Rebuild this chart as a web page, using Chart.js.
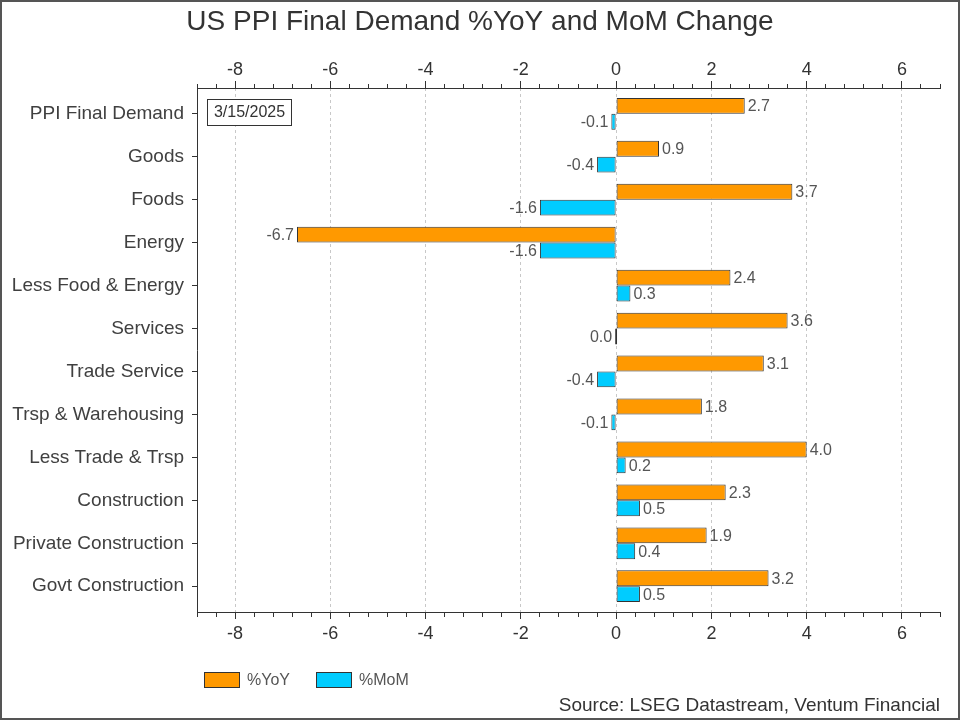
<!DOCTYPE html>
<html>
<head>
<meta charset="utf-8">
<title>US PPI Final Demand %YoY and MoM Change</title>
<script src="https://cdn.jsdelivr.net/npm/chart.js@4.4.1/dist/chart.umd.min.js"></script>
<style>
    html, body { margin: 0; padding: 0; background: #ffffff; }
    #wrap { width: 960px; height: 720px; position: relative; }
</style>
</head>
<body>
<div id="wrap"><canvas id="ppiChart"></canvas></div>
<script>

/* =========================
   DATA
========================= */

const categories = [
    "PPI Final Demand",
    "Goods",
    "Foods",
    "Energy",
    "Less Food & Energy",
    "Services",
    "Trade Service",
    "Trsp & Warehousing",
    "Less Trade & Trsp",
    "Construction",
    "Private Construction",
    "Govt Construction"
];

const yoyValues = [2.7, 0.9, 3.7, -6.7, 2.4, 3.6, 3.1, 1.8, 4.0, 2.3, 1.9, 3.2];

const momValues = [-0.1, -0.4, -1.6, -1.6, 0.3, 0.0, -0.4, -0.1, 0.2, 0.5, 0.4, 0.5];

const seriesNames = ["%YoY", "%MoM"];

const axisMin = -8.8;
const axisMax = 6.8;
const majorStep = 2;
const minorStep = 0.4;

const asOfDate = "3/15/2025";
const chartTitle = "US PPI Final Demand %YoY and MoM Change";
const sourceNote = "Source: LSEG Datastream, Ventum Financial";

/* =========================
   HELPERS
========================= */

const FONT = "'Liberation Sans', Arial, sans-serif";
const TEXT_DARK = "#333333";
const TEXT_GREY = "#555555";

function isMajor(value) {
    const r = value / majorStep;
    return Math.abs(r - Math.round(r)) < 1e-6;
}

// bar chart on a linear index axis: {x: value, y: row}
function toPoints(values) {
    return values.map((v, i) => ({ x: v, y: i }));
}

function xTicks(pad) {
    return {
        stepSize: minorStep,
        autoSkip: false,
        maxRotation: 0,
        color: TEXT_DARK,
        padding: pad,
        font: { family: FONT, size: 18 },
        callback: value => isMajor(value) ? String(Math.round(value)) : ""
    };
}

function xGrid(onChartArea, minorDash) {
    return {
        offset: false,
        drawOnChartArea: onChartArea,
        color: ctx => ctx.tick && isMajor(ctx.tick.value) ? "#c8c8c8" : "rgba(0,0,0,0)",
        tickColor: TEXT_DARK,
        tickLength: 7,
        tickBorderDash: ctx => ctx.tick && isMajor(ctx.tick.value) ? [] : minorDash
    };
}

/* =========================
   PLUGINS
========================= */

const barValueLabels = {
    id: "barValueLabels",
    afterDatasetsDraw(chart) {
        const ctx = chart.ctx;
        ctx.save();
        ctx.font = "16px " + FONT;
        ctx.fillStyle = TEXT_GREY;
        ctx.textBaseline = "middle";
        chart.data.datasets.forEach((ds, di) => {
            chart.getDatasetMeta(di).data.forEach((bar, i) => {
                const v = ds.data[i].x;
                if (v > 0) {
                    ctx.textAlign = "left";
                    ctx.fillText(v.toFixed(1), Math.max(bar.x, bar.base) + 3, bar.y + 1);
                } else {
                    ctx.textAlign = "right";
                    ctx.fillText(v.toFixed(1), Math.min(bar.x, bar.base) - 3, bar.y + 1);
                }
            });
        });
        ctx.restore();
    }
};

const dateBox = {
    id: "dateBox",
    afterDatasetsDraw(chart) {
        const ctx = chart.ctx;
        const area = chart.chartArea;
        const x = Math.round(area.left) + 10;
        const y = Math.round(area.top) + 11;
        ctx.save();
        ctx.fillStyle = "#ffffff";
        ctx.fillRect(x, y, 84, 26);
        ctx.strokeStyle = TEXT_DARK;
        ctx.lineWidth = 1;
        ctx.strokeRect(x + 0.5, y + 0.5, 84, 26);
        ctx.fillStyle = TEXT_DARK;
        ctx.font = "16px " + FONT;
        ctx.textAlign = "center";
        ctx.textBaseline = "middle";
        ctx.fillText(asOfDate, x + 42.5, y + 14);
        ctx.restore();
    }
};

const bottomLegend = {
    id: "bottomLegend",
    afterDraw(chart) {
        const ctx = chart.ctx;
        const area = chart.chartArea;
        let x = Math.round(area.left) + 7;
        const y = Math.round(area.bottom) + 60;
        ctx.save();
        ctx.font = "16px " + FONT;
        ctx.textBaseline = "middle";
        ctx.textAlign = "left";
        chart.data.datasets.forEach(ds => {
            ctx.fillStyle = ds.backgroundColor;
            ctx.fillRect(x, y, 36, 16);
            ctx.strokeStyle = TEXT_DARK;
            ctx.lineWidth = 1;
            ctx.strokeRect(x + 0.5, y + 0.5, 35, 15);
            ctx.fillStyle = TEXT_GREY;
            ctx.fillText(ds.label, x + 43, y + 9);
            x += 43 + ctx.measureText(ds.label).width + 26;
        });
        ctx.restore();
    }
};

const outerFrame = {
    id: "outerFrame",
    afterDraw(chart) {
        const ctx = chart.ctx;
        ctx.save();
        ctx.strokeStyle = "#555555";
        ctx.lineWidth = 2;
        ctx.strokeRect(1, 1, chart.width - 2, chart.height - 2);
        ctx.restore();
    }
};

/* =========================
   CHART
========================= */

function renderChart() {

    const ctx = document.getElementById("ppiChart");

    new Chart(ctx, {

        type: "bar",

        data: {
            datasets: [
                {
                    label: seriesNames[0],
                    data: toPoints(yoyValues),
                    backgroundColor: "#ff9900",
                    borderColor: TEXT_DARK,
                    borderWidth: 1,
                    borderSkipped: false
                },
                {
                    label: seriesNames[1],
                    data: toPoints(momValues),
                    backgroundColor: "#00ccff",
                    borderColor: TEXT_DARK,
                    borderWidth: 1,
                    borderSkipped: false,
                    minBarLength: 2
                }
            ]
        },

        options: {
            indexAxis: "y",
            responsive: true,
            maintainAspectRatio: false,
            animation: false,
            categoryPercentage: 0.74,
            barPercentage: 1.0,

            layout: {
                padding: 0
            },

            plugins: {
                title: {
                    display: true,
                    text: chartTitle,
                    color: TEXT_DARK,
                    font: { family: FONT, size: 28, weight: "normal" },
                    padding: { top: 5, bottom: 4 }
                },
                subtitle: {
                    display: true,
                    fullSize: false,
                    text: sourceNote,
                    position: "bottom",
                    align: "end",
                    color: TEXT_DARK,
                    font: { family: FONT, size: 19, weight: "normal" },
                    padding: { top: 0, bottom: 3 }
                },
                legend: { display: false },
                tooltip: { enabled: false }
            },

            scales: {
                x: {
                    type: "linear",
                    position: "bottom",
                    min: axisMin,
                    max: axisMax,
                    ticks: xTicks(4),
                    grid: xGrid(true, [4, 100]),
                    border: { color: TEXT_DARK, width: 1, dash: [3, 3] },
                    afterFit: scale => { scale.height = 82.2; }
                },
                x2: {
                    type: "linear",
                    position: "top",
                    min: axisMin,
                    max: axisMax,
                    ticks: xTicks(0),
                    grid: xGrid(false, [0, 3, 4, 100]),
                    border: { color: TEXT_DARK, width: 1 },
                    afterFit: scale => { scale.height = 45.4; }
                },
                y: {
                    type: "linear",
                    reverse: true,
                    offset: false,
                    bounds: "data",
                    min: -0.6,
                    max: categories.length - 0.4,
                    // one tick per row, no stray bound ticks
                    afterBuildTicks: scale => {
                        scale.ticks = categories.map((c, i) => ({ value: i }));
                    },
                    ticks: {
                        autoSkip: false,
                        color: "#404040",
                        padding: 8,
                        font: { family: FONT, size: 19 },
                        callback: value => categories[value]
                    },
                    grid: {
                        offset: false,
                        drawOnChartArea: false,
                        tickColor: TEXT_DARK,
                        tickLength: 5
                    },
                    border: { color: TEXT_DARK, width: 1 },
                    afterFit: scale => { scale.width = 197; }
                },
                // empty right-hand spacer so the plot ends 20px before the frame
                yPad: {
                    type: "linear",
                    axis: "y",
                    position: "right",
                    ticks: { display: false },
                    grid: { display: false },
                    border: { display: false },
                    afterFit: scale => { scale.width = 20; }
                }
            }
        },

        plugins: [barValueLabels, dateBox, bottomLegend, outerFrame]

    });

}

renderChart();

</script>
</body>
</html>
